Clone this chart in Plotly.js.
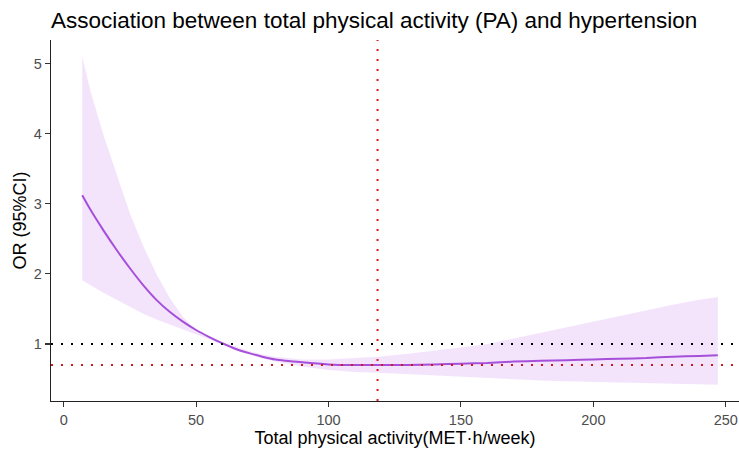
<!DOCTYPE html>
<html>
<head>
<meta charset="utf-8">
<script src="https://cdn.plot.ly/plotly-3.0.1.min.js"></script>
<style>html,body{margin:0;padding:0;background:#fff;}#chart{width:739px;height:453px;}</style>
</head>
<body>
<div id="chart"></div>
<script>
const activity = [7, 10, 15, 20, 25, 30, 35, 40, 45, 50, 55, 60, 65, 70, 75, 80, 90, 100, 110, 119, 130, 140, 150, 160, 170, 180, 190, 200, 210, 220, 230, 240, 247];
const orValues = [3.12, 2.92, 2.62, 2.34, 2.08, 1.84, 1.63, 1.46, 1.32, 1.20, 1.10, 1.01, 0.93, 0.87, 0.82, 0.78, 0.74, 0.71, 0.70, 0.70, 0.70, 0.71, 0.72, 0.73, 0.75, 0.76, 0.77, 0.78, 0.79, 0.80, 0.82, 0.83, 0.84];
const ciUpper = [5.10, 4.62, 3.98, 3.43, 2.86, 2.40, 2.00, 1.66, 1.39, 1.20, 1.10, 1.03, 0.96, 0.90, 0.85, 0.82, 0.78, 0.78, 0.80, 0.82, 0.86, 0.90, 0.95, 1.00, 1.08, 1.17, 1.25, 1.33, 1.41, 1.49, 1.56, 1.63, 1.67];
const ciLower = [1.91, 1.84, 1.73, 1.63, 1.53, 1.43, 1.35, 1.28, 1.22, 1.14, 1.07, 0.99, 0.91, 0.85, 0.79, 0.75, 0.68, 0.63, 0.60, 0.59, 0.57, 0.55, 0.53, 0.51, 0.49, 0.48, 0.47, 0.46, 0.45, 0.44, 0.43, 0.42, 0.42];
const xTicks = [0, 50, 100, 150, 200, 250];
const yTicks = [1, 2, 3, 4, 5];
const refOR = 1;
const minOR = 0.70;
const minActivity = 118.5;

const font = "Liberation Sans, Arial, sans-serif";

const traces = [
  {x: activity, y: ciLower, type: 'scatter', mode: 'lines', line: {width: 0, color: 'rgba(0,0,0,0)'}, hoverinfo: 'skip', showlegend: false},
  {x: activity, y: ciUpper, type: 'scatter', mode: 'lines', fill: 'tonexty', fillcolor: 'rgba(235,210,250,0.6)', line: {width: 0, color: 'rgba(0,0,0,0)'}, hoverinfo: 'skip', showlegend: false},
  {x: activity, y: orValues, type: 'scatter', mode: 'lines', line: {color: '#A64FD9', width: 2, shape: 'spline', smoothing: 0.6}, showlegend: false}
];

const layout = {
  width: 739, height: 453,
  margin: {l: 51, r: 0, t: 40, b: 52},
  paper_bgcolor: '#fff', plot_bgcolor: '#fff',
  font: {family: font, color: '#000'},
  showlegend: false,
  title: {text: 'Association between total physical activity (PA) and hypertension', font: {family: font, size: 22.5, color: '#000'}, xref: 'container', yref: 'container', x: 51/739, xanchor: 'left', y: 1 - 20/453, yanchor: 'middle'},
  xaxis: {
    range: [-4.8, 255], tickvals: xTicks, ticktext: xTicks.map(String),
    showgrid: false, zeroline: false, showline: true, linecolor: '#222', linewidth: 1.2,
    ticks: 'outside', ticklen: 5, tickwidth: 1.1, tickcolor: '#333',
    tickfont: {family: font, size: 14.5, color: '#4D4D4D'},
    title: {text: 'Total physical activity(MET·h/week)', font: {family: font, size: 18, color: '#000'}, standoff: 4}
  },
  yaxis: {
    range: [0.188, 5.334], tickvals: yTicks, ticktext: yTicks.map(String),
    showgrid: false, zeroline: false, showline: true, linecolor: '#222', linewidth: 1.2,
    ticks: 'outside', ticklen: 5, tickwidth: 1.1, tickcolor: '#333',
    tickfont: {family: font, size: 14.5, color: '#4D4D4D'},
    title: {text: 'OR (95%CI)', font: {family: font, size: 18, color: '#000'}, standoff: 2}
  },
  shapes: [
    {type: 'line', xref: 'paper', x0: 0, x1: 1, yref: 'y', y0: refOR, y1: refOR, line: {color: '#000', width: 2, dash: '2px,8px'}},
    {type: 'line', xref: 'paper', x0: 0, x1: 1, yref: 'y', y0: minOR, y1: minOR, line: {color: '#D41818', width: 2, dash: '2px,8px'}},
    {type: 'line', xref: 'x', x0: minActivity, x1: minActivity, yref: 'paper', y0: 0, y1: 1, line: {color: '#E01515', width: 2, dash: '2px,8px'}}
  ]
};

Plotly.newPlot('chart', traces, layout, {displayModeBar: false, staticPlot: true});
</script>
</body>
</html>
